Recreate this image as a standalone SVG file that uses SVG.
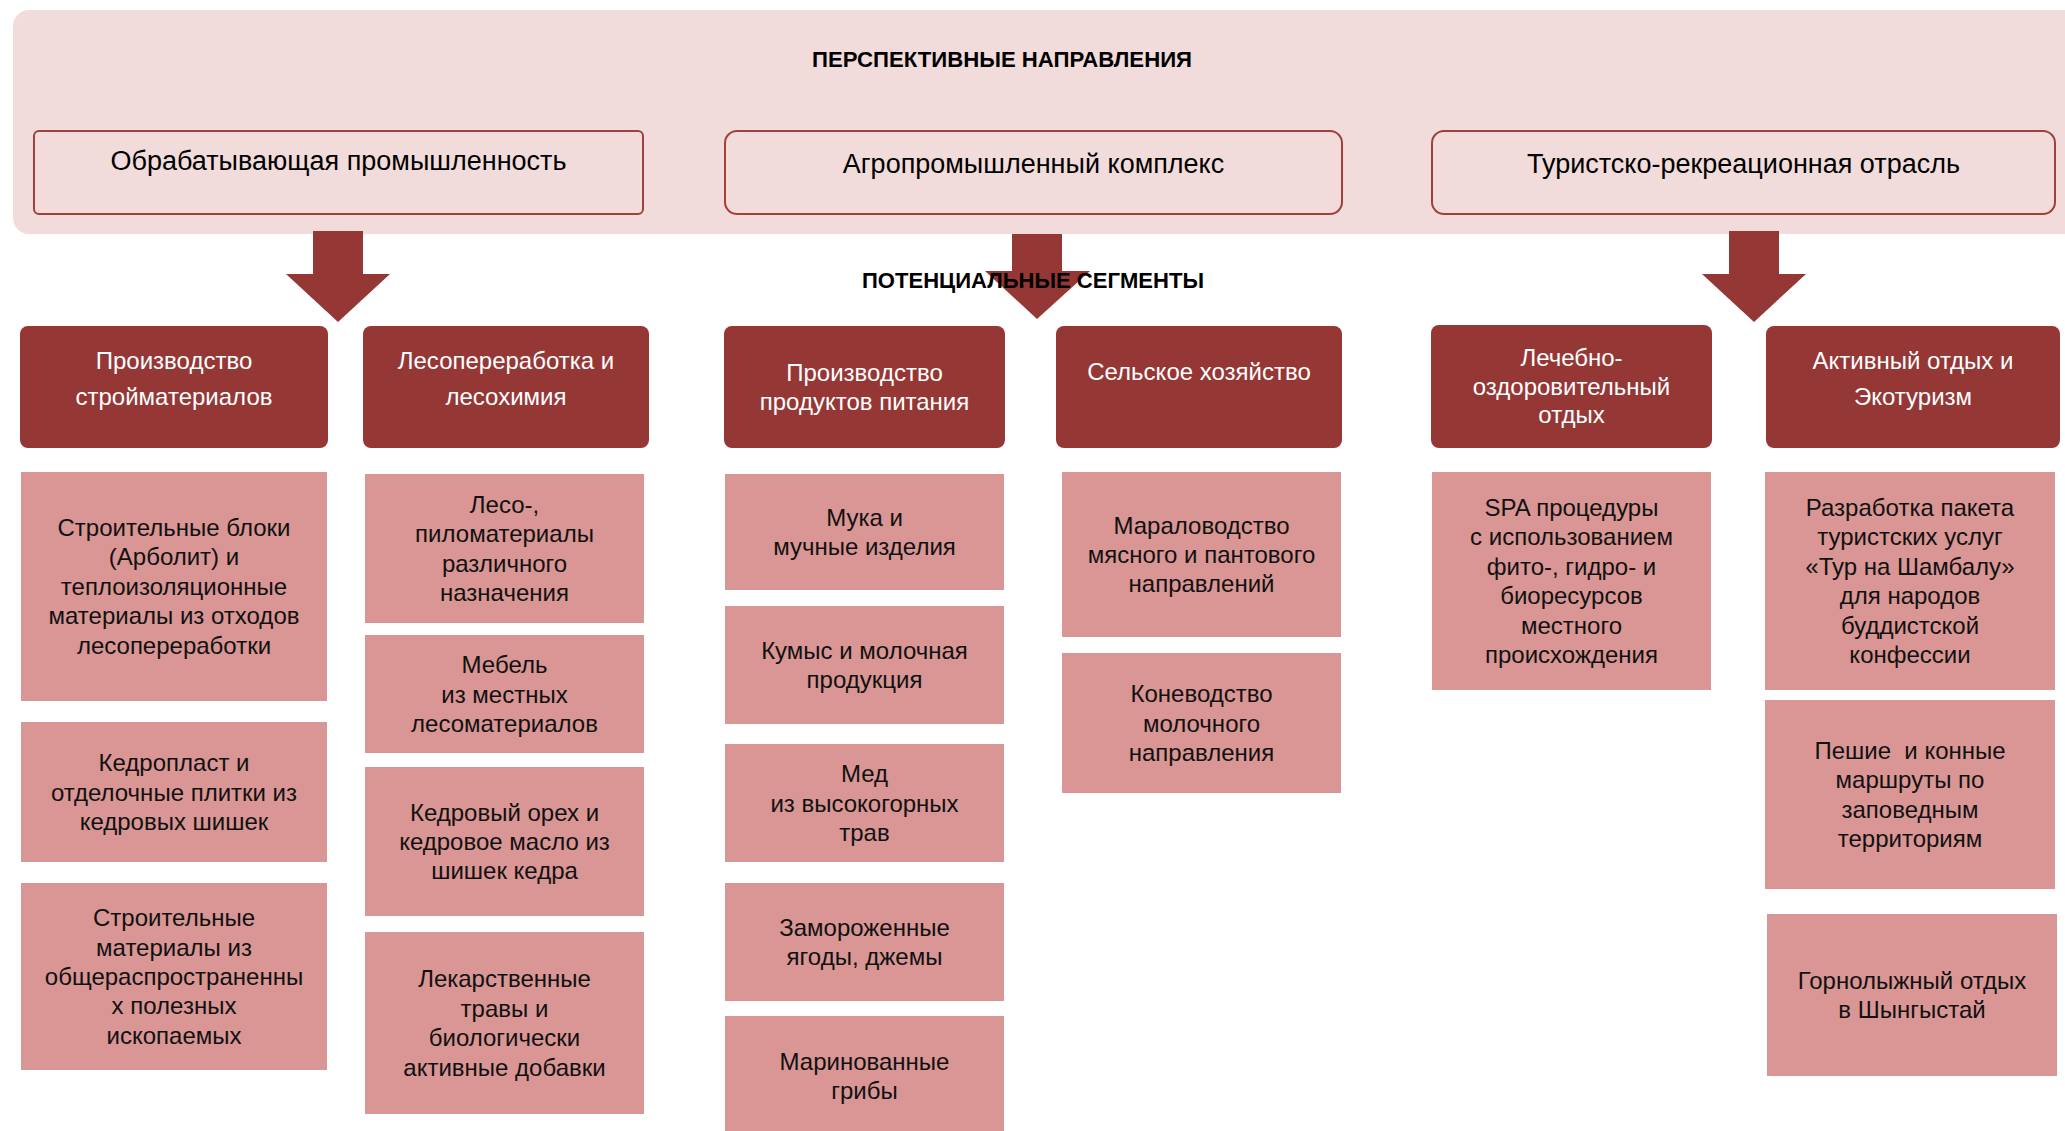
<svg xmlns="http://www.w3.org/2000/svg" width="2065" height="1131" viewBox="0 0 2065 1131">
<style>
text{font-family:"Liberation Sans",Arial,sans-serif;text-anchor:middle}
.band{fill:#f2dcdb}
.dir{fill:#f2dcdb;stroke:#a0403e;stroke-width:2}
.dirt{font-size:27px;fill:#000}
.ttl{font-size:22px;font-weight:bold;fill:#000}
.arrow{fill:#953735}
.seg{fill:#953735}
.segt{font-size:24px;fill:#fff}
.item{fill:#d99694}
.itemt{font-size:24px;fill:#111}
</style>
<rect width="2065" height="1131" fill="#fff"/>
<g id="band">
<rect class="band" x="13" y="10" width="2070" height="224" rx="16"/>
<text class="ttl" x="1002" y="67" textLength="380" lengthAdjust="spacingAndGlyphs">ПЕРСПЕКТИВНЫЕ НАПРАВЛЕНИЯ</text>
</g>
<g id="dir1"><rect class="dir" x="34" y="131" width="609" height="83" rx="5"/><text class="dirt" x="338.5" y="170">Обрабатывающая промышленность</text></g>
<g id="dir2"><rect class="dir" x="725" y="131" width="617" height="83" rx="12"/><text class="dirt" x="1033.5" y="173">Агропромышленный комплекс</text></g>
<g id="dir3"><rect class="dir" x="1432" y="131" width="623" height="83" rx="12"/><text class="dirt" x="1743.5" y="173">Туристско-рекреационная отрасль</text></g>
<g id="connectors">
<polygon class="arrow" points="313,231 363,231 363,274 390,274 338,322 286,274 313,274"/>
<polygon class="arrow" points="1012,234 1062,234 1062,271 1090,271 1037,319 985,271 1012,271"/>
<polygon class="arrow" points="1729,231 1779,231 1779,274 1806,274 1754,322 1702,274 1729,274"/>
</g>
<g id="segments-title"><text class="ttl" x="1033" y="288" textLength="342" lengthAdjust="spacingAndGlyphs">ПОТЕНЦИАЛЬНЫЕ СЕГМЕНТЫ</text></g>
<g id="seg1"><rect class="seg" x="20" y="326" width="308" height="122" rx="8"/><text class="segt"><tspan x="174" y="369">Производство</tspan><tspan x="174" y="405">стройматериалов</tspan></text></g>
<g id="seg2"><rect class="seg" x="363" y="326" width="286" height="122" rx="8"/><text class="segt"><tspan x="506" y="369">Лесопереработка и</tspan><tspan x="506" y="405">лесохимия</tspan></text></g>
<g id="seg3"><rect class="seg" x="724" y="326" width="281" height="122" rx="8"/><text class="segt"><tspan x="864.5" y="381">Производство</tspan><tspan x="864.5" y="409.5">продуктов питания</tspan></text></g>
<g id="seg4"><rect class="seg" x="1056" y="326" width="286" height="122" rx="8"/><text class="segt" x="1199" y="380">Сельское хозяйство</text></g>
<g id="seg5"><rect class="seg" x="1431" y="325" width="281" height="123" rx="8"/><text class="segt"><tspan x="1571.5" y="366">Лечебно-</tspan><tspan x="1571.5" y="394.5">оздоровительный</tspan><tspan x="1571.5" y="423">отдых</tspan></text></g>
<g id="seg6"><rect class="seg" x="1766" y="326" width="294" height="122" rx="8"/><text class="segt"><tspan x="1913" y="369">Активный отдых и</tspan><tspan x="1913" y="405">Экотуризм</tspan></text></g>
<g id="c1a"><rect class="item" x="21" y="472" width="306" height="229"/><text class="itemt"><tspan x="174" y="536">Строительные блоки</tspan><tspan x="174" y="565.4">(Арболит) и</tspan><tspan x="174" y="594.8">теплоизоляционные</tspan><tspan x="174" y="624.2">материалы из отходов</tspan><tspan x="174" y="653.6">лесопереработки</tspan></text></g>
<g id="c1b"><rect class="item" x="21" y="722" width="306" height="140"/><text class="itemt"><tspan x="174" y="771.1">Кедропласт и</tspan><tspan x="174" y="800.5">отделочные плитки из</tspan><tspan x="174" y="829.9">кедровых шишек</tspan></text></g>
<g id="c1c"><rect class="item" x="21" y="883" width="306" height="187"/><text class="itemt"><tspan x="174" y="926.2">Строительные</tspan><tspan x="174" y="955.6">материалы из</tspan><tspan x="174" y="985">общераспространенны</tspan><tspan x="174" y="1014.4">х полезных</tspan><tspan x="174" y="1043.8">ископаемых</tspan></text></g>
<g id="c2a"><rect class="item" x="365" y="474" width="279" height="149"/><text class="itemt"><tspan x="504.5" y="512.9">Лесо-,</tspan><tspan x="504.5" y="542.3">пиломатериалы</tspan><tspan x="504.5" y="571.7">различного</tspan><tspan x="504.5" y="601.1">назначения</tspan></text></g>
<g id="c2b"><rect class="item" x="365" y="635" width="279" height="118"/><text class="itemt"><tspan x="504.5" y="673.1">Мебель</tspan><tspan x="504.5" y="702.5">из местных</tspan><tspan x="504.5" y="731.9">лесоматериалов</tspan></text></g>
<g id="c2c"><rect class="item" x="365" y="767" width="279" height="149"/><text class="itemt"><tspan x="504.5" y="820.6">Кедровый орех и</tspan><tspan x="504.5" y="850">кедровое масло из</tspan><tspan x="504.5" y="879.4">шишек кедра</tspan></text></g>
<g id="c2d"><rect class="item" x="365" y="932" width="279" height="182"/><text class="itemt"><tspan x="504.5" y="987.4">Лекарственные</tspan><tspan x="504.5" y="1016.8">травы и</tspan><tspan x="504.5" y="1046.2">биологически</tspan><tspan x="504.5" y="1075.6">активные добавки</tspan></text></g>
<g id="c3a"><rect class="item" x="725" y="474" width="279" height="116"/><text class="itemt"><tspan x="864.5" y="525.8">Мука и</tspan><tspan x="864.5" y="555.2">мучные изделия</tspan></text></g>
<g id="c3b"><rect class="item" x="725" y="606" width="279" height="118"/><text class="itemt"><tspan x="864.5" y="658.8">Кумыс и молочная</tspan><tspan x="864.5" y="688.2">продукция</tspan></text></g>
<g id="c3c"><rect class="item" x="725" y="744" width="279" height="118"/><text class="itemt"><tspan x="864.5" y="782.1">Мед</tspan><tspan x="864.5" y="811.5">из высокогорных</tspan><tspan x="864.5" y="840.9">трав</tspan></text></g>
<g id="c3d"><rect class="item" x="725" y="883" width="279" height="118"/><text class="itemt"><tspan x="864.5" y="935.8">Замороженные</tspan><tspan x="864.5" y="965.2">ягоды, джемы</tspan></text></g>
<g id="c3e"><rect class="item" x="725" y="1016" width="279" height="130"/><text class="itemt"><tspan x="864.5" y="1070">Маринованные</tspan><tspan x="864.5" y="1099.4">грибы</tspan></text></g>
<g id="c4a"><rect class="item" x="1062" y="472" width="279" height="165"/><text class="itemt"><tspan x="1201.5" y="533.6">Мараловодство</tspan><tspan x="1201.5" y="563">мясного и пантового</tspan><tspan x="1201.5" y="592.4">направлений</tspan></text></g>
<g id="c4b"><rect class="item" x="1062" y="653" width="279" height="140"/><text class="itemt"><tspan x="1201.5" y="702.1">Коневодство</tspan><tspan x="1201.5" y="731.5">молочного</tspan><tspan x="1201.5" y="760.9">направления</tspan></text></g>
<g id="c5a"><rect class="item" x="1432" y="472" width="279" height="218"/><text class="itemt"><tspan x="1571.5" y="516">SPA процедуры</tspan><tspan x="1571.5" y="545.4">с использованием</tspan><tspan x="1571.5" y="574.8">фито-, гидро- и</tspan><tspan x="1571.5" y="604.2">биоресурсов</tspan><tspan x="1571.5" y="633.6">местного</tspan><tspan x="1571.5" y="663">происхождения</tspan></text></g>
<g id="c6a"><rect class="item" x="1765" y="472" width="290" height="218"/><text class="itemt"><tspan x="1910" y="516">Разработка пакета</tspan><tspan x="1910" y="545.4">туристских услуг</tspan><tspan x="1910" y="574.8">«Тур на Шамбалу»</tspan><tspan x="1910" y="604.2">для народов</tspan><tspan x="1910" y="633.6">буддистской</tspan><tspan x="1910" y="663">конфессии</tspan></text></g>
<g id="c6b"><rect class="item" x="1765" y="700" width="290" height="189"/><text class="itemt" xml:space="preserve"><tspan x="1910" y="758.9">Пешие  и конные</tspan><tspan x="1910" y="788.3">маршруты по</tspan><tspan x="1910" y="817.7">заповедным</tspan><tspan x="1910" y="847.1">территориям</tspan></text></g>
<g id="c6c"><rect class="item" x="1767" y="914" width="290" height="162"/><text class="itemt"><tspan x="1912" y="988.8">Горнолыжный отдых</tspan><tspan x="1912" y="1018.2">в Шынгыстай</tspan></text></g>
</svg>
